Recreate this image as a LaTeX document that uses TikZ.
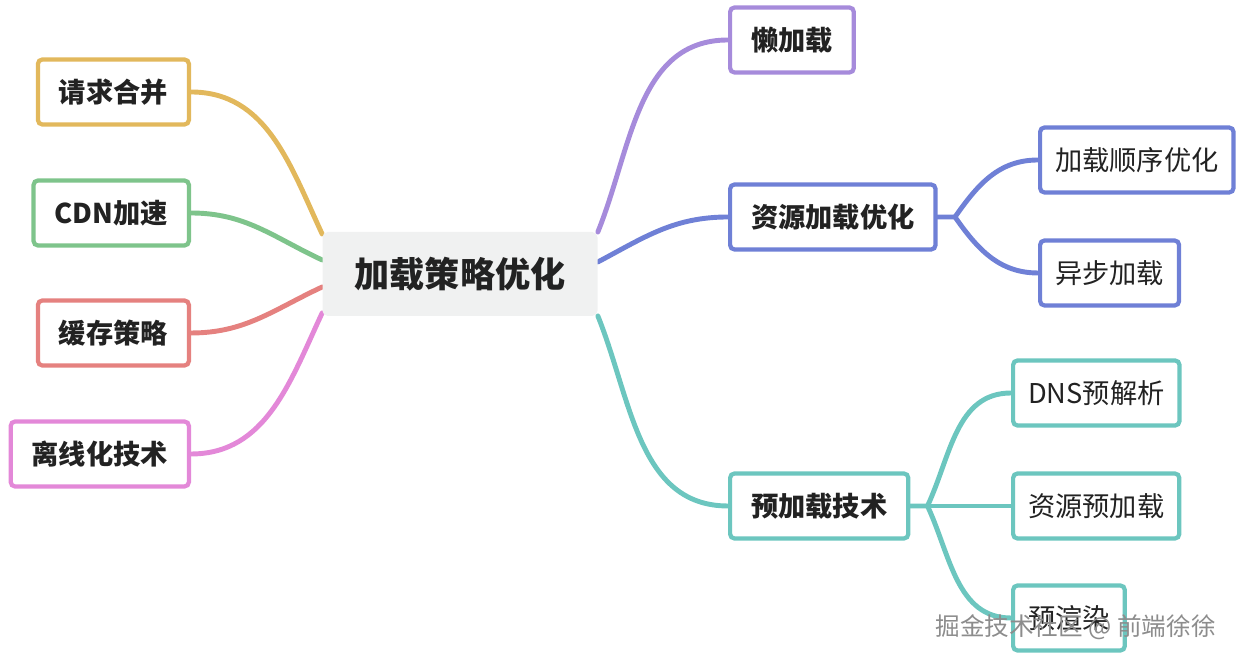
\documentclass[tikz,border=0pt]{standalone}
\usepackage{fontspec}
\setmainfont{Noto Sans CJK SC}
\usepackage{xcolor}
\definecolor{ink}{HTML}{222222}
\definecolor{rootbg}{HTML}{F0F1F1}
\definecolor{cyellow}{HTML}{E2B85C}
\definecolor{cgreen}{HTML}{7EC48B}
\definecolor{cred}{HTML}{E5817F}
\definecolor{cpink}{HTML}{E388D8}
\definecolor{cpurple}{HTML}{A68BDB}
\definecolor{cblue}{HTML}{6F80D6}
\definecolor{cteal}{HTML}{6CC6BF}
\usetikzlibrary{positioning, calc, backgrounds}

\begin{document}
\begin{tikzpicture}[
    root/.style={rectangle, fill=rootbg, rounded corners=3pt,
        minimum width=5.5cm, minimum height=1.68cm,
        font=\fontsize{20}{24}\selectfont\bfseries, text=ink},
    topic/.style={rectangle, draw=#1, fill=white, line width=2.4pt,
        rounded corners=2.5pt, minimum height=1.3cm, inner xsep=0.42cm,
        font=\fontsize{15.5}{18}\selectfont\bfseries, text=ink},
    sub/.style={topic=#1, inner xsep=0.3cm, font=\fontsize{15.5}{18}\selectfont},
    link/.style={draw=#1, line width=2.8pt, line cap=round},
    wmark/.style={font=\fontsize{14}{16}\selectfont, text=black!45}
]
\useasboundingbox (0,0) rectangle (24.84,13.2);

% Root
\node[root] (C) at (9.20, 7.72) {加载策略优化};

% Left branches
\node[topic=cyellow, anchor=east] (L1) at (3.82, 11.36) {请求合并};
\node[topic=cgreen, anchor=east] (L2) at (3.82, 8.94) {CDN加速};
\node[topic=cred, anchor=east] (L3) at (3.82, 6.54) {缓存策略};
\node[topic=cpink, anchor=east] (L4) at (3.82, 4.12) {离线化技术};

% Right branches
\node[topic=cpurple, anchor=west] (R1) at (14.56, 12.40) {懒加载};
\node[topic=cblue, anchor=west] (R2) at (14.56, 8.86) {资源加载优化};
\node[topic=cteal, anchor=west] (R3) at (14.56, 3.08) {预加载技术};

% Children of R2
\node[sub=cblue, anchor=west] (R21) at (20.76, 10.00) {加载顺序优化};
\node[sub=cblue, anchor=west] (R22) at (20.76, 7.74) {异步加载};

% Children of R3
\node[sub=cteal, anchor=west] (R31) at (20.22, 5.34) {DNS预解析};
\node[sub=cteal, anchor=west] (R32) at (20.22, 3.08) {资源预加载};
\node[sub=cteal, anchor=west] (R33) at (20.22, 0.84) {预渲染};

% Fork points
\coordinate (F2) at (19.10, 8.86);
\coordinate (F3) at (18.55, 3.08);

\begin{scope}[on background layer]
% Root -> left
\draw[link=cyellow] ([yshift=0.80cm]C.west) to[out=115, in=0] (L1.east);
\draw[link=cgreen] ([yshift=0.28cm]C.west) to[out=155, in=0] (L2.east);
\draw[link=cred] ([yshift=-0.26cm]C.west) to[out=205, in=0] (L3.east);
\draw[link=cpink] ([yshift=-0.78cm]C.west) to[out=245, in=0] (L4.east);

% Root -> right
\draw[link=cpurple] ([yshift=0.84cm]C.east) to[out=68, in=180] (R1.west);
\draw[link=cblue] ([yshift=0.24cm]C.east) to[out=28, in=180] (R2.west);
\draw[link=cteal] ([yshift=-0.84cm]C.east) to[out=-68, in=180] (R3.west);

% R2 -> children
\draw[link=cblue] (R2.east) -- (F2) to[out=55, in=180] (R21.west);
\draw[link=cblue] (F2) to[out=-55, in=180] (R22.west);

% R3 -> children
\draw[link=cteal] (R3.east) -- (F3) to[out=65, in=180] (R31.west);
\draw[link=cteal] (F3) -- (R32.west);
\draw[link=cteal] (F3) to[out=-65, in=180] (R33.west);
\end{scope}

% Watermark
\node[wmark, anchor=east] (WM) at (24.44, 0.66) {掘金技术社区 @ 前端徐徐};

\end{tikzpicture}
\end{document}
